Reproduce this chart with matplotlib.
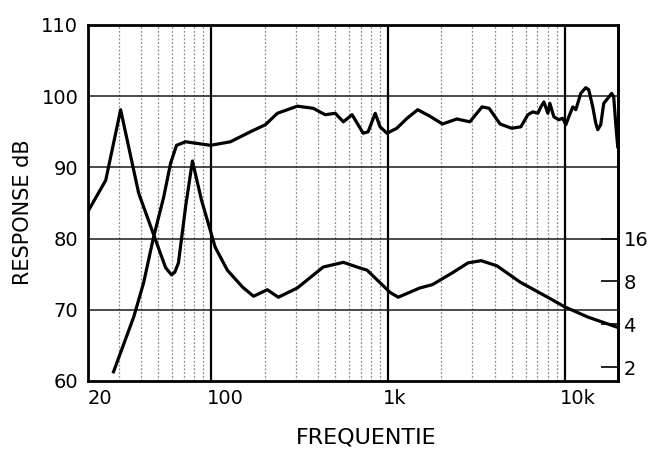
import matplotlib.pyplot as plt
import numpy as np
from matplotlib.transforms import ScaledTranslation

# frequency response (Hz, dB)
freq_spl = [27.9, 36.3, 41.3, 47, 53.6, 58.7, 63.4, 71.3, 86.7, 98.7, 128, 166,
            202, 236, 306, 377, 440, 502, 558, 625, 722, 770, 845, 900, 985,
            1120, 1280, 1470, 1720, 2030, 2450, 2900, 3400, 3730, 4300, 5000,
            5640, 6180, 6590, 7040, 7320, 7610, 8020, 8230, 8670, 9250, 9740,
            10130, 10530, 11100, 11540, 12310, 13140, 13660, 14390, 14970,
            15360, 15970, 16610, 17500, 18430, 18910, 19410, 19930]
spl_db = [61.3, 69.0, 73.8, 80.2, 85.8, 90.6, 93.1, 93.6, 93.3, 93.1, 93.6, 95.0,
          96.0, 97.6, 98.6, 98.3, 97.4, 97.6, 96.4, 97.4, 94.8, 95.0, 97.6, 95.7, 94.8,
          95.5, 96.9, 98.1, 97.2, 96.1, 96.8, 96.4, 98.5, 98.3, 96.1, 95.5,
          95.7, 97.4, 97.8, 97.6, 98.5, 99.2, 97.6, 99.0, 97.1, 96.7, 96.9,
          96.0, 97.1, 98.5, 98.1, 100.4, 101.2, 100.9, 98.5, 96.2,
          95.3, 96.0, 99.0, 99.7, 100.4, 99.9, 96.2, 92.9]

# impedance (Hz, ohm)
freq_imp = [20.2, 25.2, 30.6, 38.7, 48.3, 55, 59.4, 62, 65, 71.3, 78, 87.8, 105, 123,
            150, 173, 207, 239, 306, 429, 558, 667, 760, 1026, 1140, 1510, 1780,
            2310, 2830, 3360, 4130, 5600, 8000, 10000, 13500, 20000]
imp_ohm = [25.4, 41.1, 128.6, 33.4, 15.6, 10.0, 8.9, 9.3, 10.8, 26.6, 56.1, 29.8, 13.9,
           9.6, 7.3, 6.3, 7.0, 6.2, 7.2, 10.1, 10.9, 10.1, 9.6, 6.7, 6.2, 7.2, 7.6,
           9.2, 10.8, 11.2, 10.3, 7.9, 6.2, 5.3, 4.5, 3.8]

x_ticks = [20, 100, 1000, 10000]
x_labels = ['20', '100', '1k', '10k']
y_ticks = [60, 70, 80, 90, 100, 110]
ohm_ticks = [2, 4, 8, 16]
minor_freqs = [30, 40, 50, 60, 70, 80, 90, 200, 300, 400, 500, 600, 700, 800, 900,
               2000, 3000, 4000, 5000, 6000, 7000, 8000, 9000]


def ohm2db(z):
    return 80 + 20 * np.log10(np.asarray(z, dtype=float) / 16.0)


def db2ohm(d):
    return 16.0 * 10 ** ((np.asarray(d, dtype=float) - 80) / 20.0)


fig = plt.figure(figsize=(6.51, 4.51), dpi=100)
ax = fig.add_axes([88 / 651, 70 / 451, 530 / 651, 356 / 451])
ax.set_xscale('log')
ax.set_xlim(20, 20000)
ax.set_ylim(60, 110)

# grid
for f in minor_freqs:
    ax.axvline(f, color='0.55', lw=0.9, ls=(0, (1.5, 1.5)), zorder=1)
for f in [100, 1000, 10000]:
    ax.axvline(f, color='black', lw=1.6, zorder=2)
for y in [70, 80, 90, 100]:
    ax.axhline(y, color='0.1', lw=1.1, zorder=2)

ax.plot(freq_spl, spl_db, color='black', lw=2.3, zorder=3)
ax.plot(freq_imp, ohm2db(imp_ohm), color='black', lw=2.3, zorder=3)

ax.set_xticks(x_ticks)
ax.set_xticklabels(x_labels)
ax.xaxis.set_minor_locator(plt.NullLocator())
ax.set_yticks(y_ticks)
ax.tick_params(axis='both', length=0, labelsize=14, colors='black')
ax.tick_params(axis='x', pad=6)
ax.tick_params(axis='y', pad=7)
for i, lab in enumerate(ax.get_xticklabels()):
    lab.set_horizontalalignment('left')
    if i > 0:
        lab.set_transform(lab.get_transform() +
                          ScaledTranslation(-5 / 100, 0, fig.dpi_scale_trans))

for s in ax.spines.values():
    s.set_linewidth(2)

sec = ax.secondary_yaxis('right', functions=(db2ohm, ohm2db))
sec.set_yticks(ohm_ticks)
sec.set_yticklabels([str(t) for t in ohm_ticks])
sec.yaxis.set_minor_locator(plt.NullLocator())
sec.tick_params(axis='y', direction='in', length=12, width=1.2, labelsize=14, pad=4)
sec.spines['right'].set_linewidth(2)

fig.text(23 / 651, 1 - 212 / 451, 'RESPONSE dB', rotation=90, fontsize=15,
         ha='center', va='center')
fig.text(366 / 651, 1 - 438 / 451, 'FREQUENTIE', fontsize=16,
         ha='center', va='center')

fig.savefig('out.png', dpi=100)
